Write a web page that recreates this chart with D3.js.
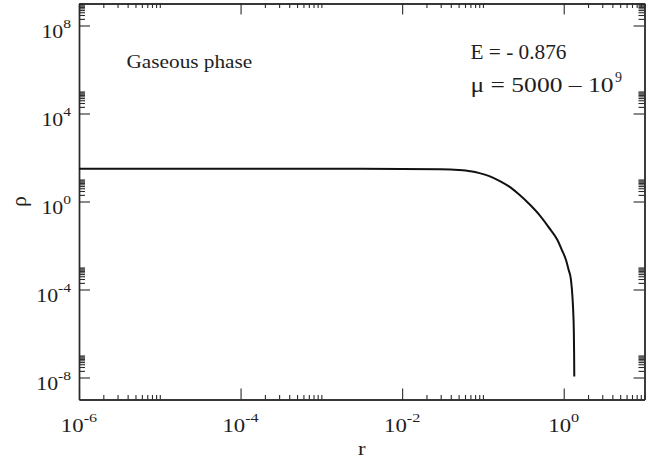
<!DOCTYPE html>
<html>
<head>
<meta charset="utf-8">
<script src="https://cdn.jsdelivr.net/npm/d3@7"></script>
<style>
  html, body { margin: 0; padding: 0; background: #fff; }
  svg text { font-family: "Liberation Serif", "Times New Roman", serif; fill: #1e1e1e; }
</style>
</head>
<body>
<svg id="chart" width="653" height="461"></svg>
<script>
// Density profile rho(r) in the gaseous phase
const radius = [1e-6, 1e-4, 1e-3, 0.01, 0.03, 0.05, 0.07, 0.0906, 0.12, 0.16, 0.21, 0.283,
                0.38, 0.499, 0.65, 0.833, 0.95, 1.067, 1.15, 1.23, 1.29, 1.315, 1.333, 1.345, 1.352];
const density = [30.6, 30.6, 30.6, 30.4, 29.2, 26.8, 23.5, 19.5, 14.3, 8.7, 4.85, 2.02,
                 0.73, 0.248, 0.069, 0.0182, 0.0062, 2.2e-3, 7.9e-4, 2.75e-4, 3.4e-5, 7.9e-6, 1.5e-6, 1.26e-7, 1.1e-8];

// Axis ranges and labelled decades
const xDomain = [1e-6, 1e1];
const yDomain = [1e-9, 1e9];
const xMajorExp = [-6, -4, -2, 0];
const yMajorExp = [-8, -4, 0, 4, 8];
const minorMultipliers = [2, 3, 4, 5, 6, 7, 8, 9, 10];

const annotation = "Gaseous phase";
const energyText = "E = - 0.876";
const muText = "\u03bc = 5000 \u2013 10";
const muExp = "9";
const xTitle = "r";
const yTitle = "\u03c1";

const svg = d3.select("#chart");
const L = 79, R = 644.5, T = 3.5, B = 399.5;
const x = d3.scaleLog().domain(xDomain).range([L, R]);
const y = d3.scaleLog().domain(yDomain).range([B, T]);

const axisColor = "#2a2a2a";
const xMajor = xMajorExp.map(e => Math.pow(10, e));
const yMajor = yMajorExp.map(e => Math.pow(10, e));
const minorsOf = (majors, dom) => majors.flatMap(m => minorMultipliers.map(k => k * m))
  .filter(v => v >= dom[0] && v <= dom[1] * 1.0001);
const xMinor = minorsOf(xMajor, xDomain);
const yMinor = minorsOf(yMajor, yDomain);

function styleAxis(g) {
  g.selectAll("path").attr("stroke", axisColor).attr("stroke-width", 1.4);
  g.selectAll("line").attr("stroke", axisColor).attr("stroke-width", 1.1);
}

// ticks point into the plot on all four sides
const major = 11, minorX = 4.5, minorY = 6;
const sides = [
  [d3.axisBottom, x, `translate(0,${B})`, xMajor, xMinor, minorX],
  [d3.axisTop, x, `translate(0,${T})`, xMajor, xMinor, minorX],
  [d3.axisLeft, y, `translate(${L},0)`, yMajor, yMinor, minorY],
  [d3.axisRight, y, `translate(${R},0)`, yMajor, yMinor, minorY]
];
sides.forEach(([axisFn, scale, tr, majors, minors, minorLen]) => {
  svg.append("g").attr("transform", tr)
    .call(axisFn(scale).tickValues(majors).tickSizeInner(-major).tickSizeOuter(0).tickFormat(""))
    .call(styleAxis);
  svg.append("g").attr("transform", tr)
    .call(axisFn(scale).tickValues(minors).tickSizeInner(-minorLen).tickSizeOuter(0).tickFormat(""))
    .call(styleAxis);
});

// text stretched horizontally about its anchor point
function stretchedText(px, py, sx, size, anchor) {
  return svg.append("g").attr("transform", `translate(${px},${py}) scale(${sx},1)`)
    .append("text").attr("x", 0).attr("y", 0)
    .attr("text-anchor", anchor).attr("font-size", size);
}

const labelSize = 19, supSize = 13.5, stretch = 1.2;

// x tick labels: 10^e
xMajorExp.forEach((e, i) => {
  const t = stretchedText(x(xMajor[i]), 431.5, stretch, labelSize, "middle");
  t.append("tspan").text("10");
  t.append("tspan").attr("font-size", supSize).attr("dy", -9.5).text(String(e));
});

// y tick labels: 10^e
yMajorExp.forEach((e, i) => {
  const t = stretchedText(L - 8, y(yMajor[i]) + 12, 1.15, labelSize, "end");
  t.append("tspan").text("10");
  t.append("tspan").attr("font-size", supSize).attr("dy", -9.5).text(String(e));
});

// axis titles
stretchedText((L + R) / 2, 455, stretch, labelSize, "middle").text(xTitle);
svg.append("text").attr("transform", `translate(25.5,${(T + B) / 2}) rotate(-90)`)
  .attr("text-anchor", "middle").attr("font-size", 22).text(yTitle);

// density curve
const line = d3.line()
  .x((d, i) => x(radius[i]))
  .y(d => y(d))
  .curve(d3.curveMonotoneX);
svg.append("path")
  .attr("d", line(density))
  .attr("fill", "none")
  .attr("stroke", "#111")
  .attr("stroke-width", 2);

// annotations
stretchedText(126.5, 67.5, 1.15, 18.5, "start").text(annotation);
svg.append("text").attr("x", 470.5).attr("y", 58.5).attr("font-size", 20)
  .attr("textLength", 96).attr("lengthAdjust", "spacingAndGlyphs").text(energyText);
const mu = svg.append("text").attr("x", 470.5).attr("y", 91.5).attr("font-size", 20);
mu.append("tspan").attr("textLength", 143).attr("lengthAdjust", "spacingAndGlyphs").text(muText);
mu.append("tspan").attr("x", 615).attr("font-size", supSize + 0.5).attr("dy", -10).text(muExp);
</script>
</body>
</html>
